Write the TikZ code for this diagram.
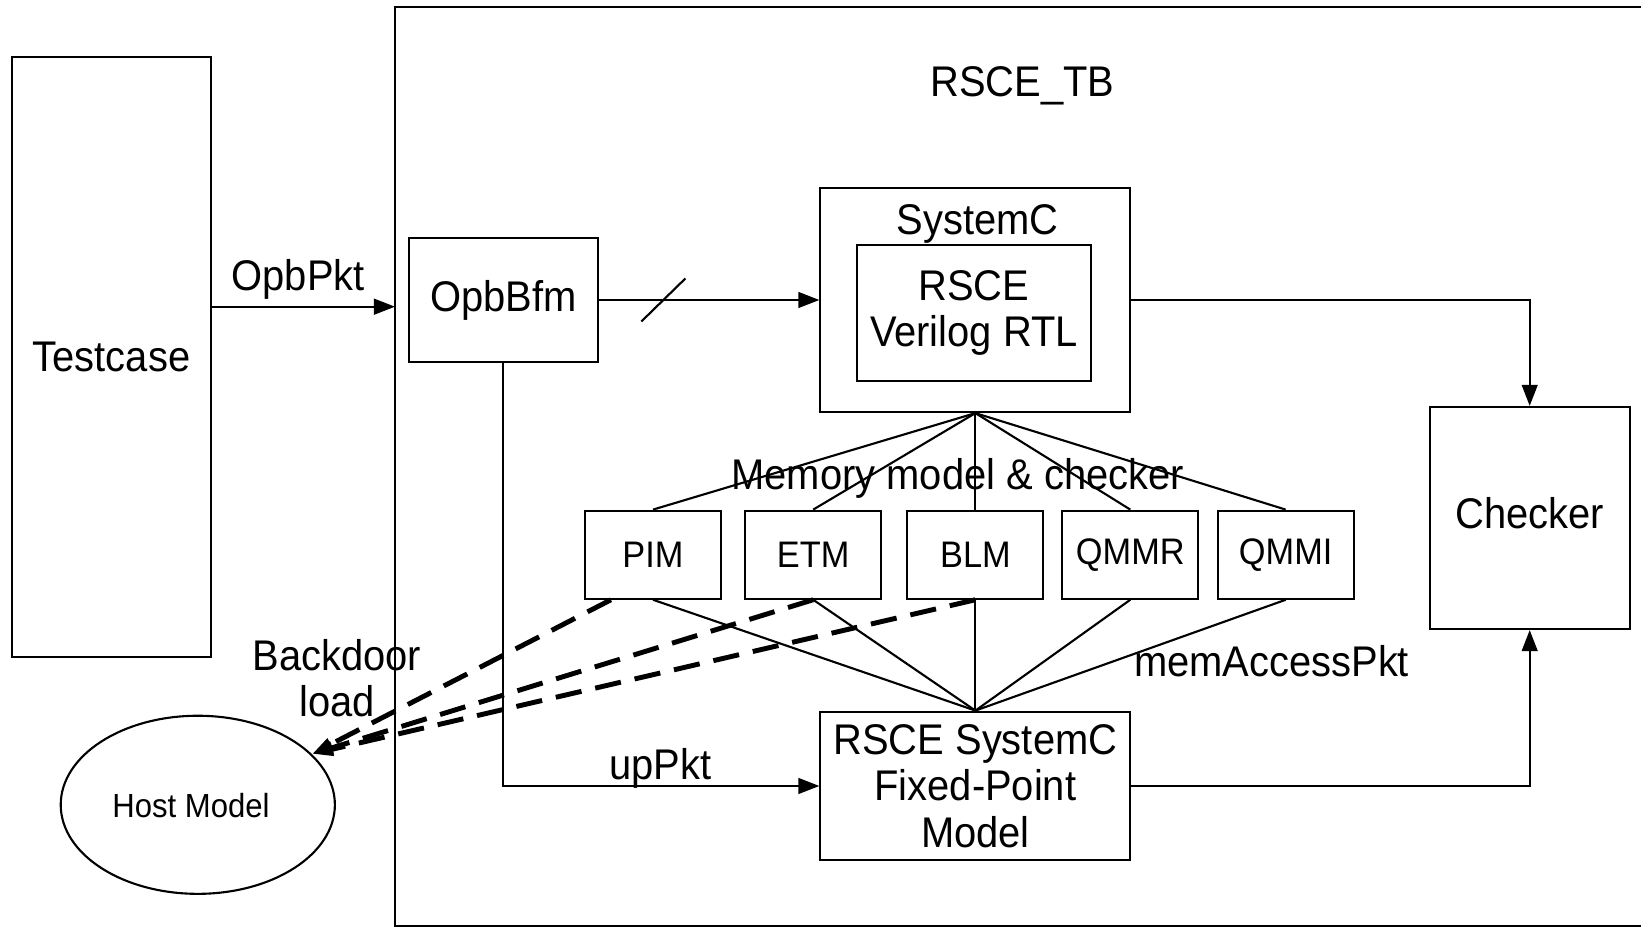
\documentclass[tikz,border=0pt]{standalone}
\usepackage{fontspec}
\setmainfont{Liberation Sans}[FakeStretch=0.93]
\usetikzlibrary{arrows.meta,shapes.geometric}

\tikzset{
  block/.style={draw, line width=0.6pt, inner sep=0pt, align=center, font=\fontsize{12.2}{13.2}\selectfont},
  membox/.style={draw, line width=0.6pt, inner sep=0pt, minimum width=1.36cm, minimum height=0.88cm, font=\fontsize{10.5}{12}\selectfont},
  wire/.style={line width=0.6pt},
  flow/.style={wire, -{Triangle[length=6pt,width=4.5pt]}},
  backdoor/.style={line width=1.4pt, dash pattern=on 7.5pt off 4pt, -{Triangle[length=6pt,width=3.5pt]}},
  tag/.style={font=\fontsize{12.2}{13.2}\selectfont, align=center, inner sep=0pt},
}

\begin{document}
\begin{tikzpicture}[x=0.01cm, y=-0.01cm]
    \useasboundingbox (0,0) rectangle (1641,928);
    % testbench frame, open to the right
    \draw[wire] (1641,7) -- (395,7) -- (395,926) -- (1641,926);
    \coordinate (tbin) at (395,306.7);
    \node[tag] (tbname) at (1022.5,85.8) {RSCE\_TB};

    \node[block, minimum width=1.98cm, minimum height=5.99cm] (testcase) at (111.5,357) {Testcase};
    \node[block, minimum width=1.886cm, minimum height=1.246cm] (opb) at (503.3,300) {OpbBfm};
    \node[block, minimum width=3.098cm, minimum height=2.24cm] (sysc) at (975.4,300) {};
    \node[tag] (sysclabel) at (977.5,223.5) {SystemC};
    \node[block, minimum width=2.334cm, minimum height=1.361cm] (rtl) at (973.9,313) {RSCE\\Verilog RTL};
    \node[block, minimum width=2cm, minimum height=2.22cm] (checker) at (1529.7,518) {};
    \node[tag] (checkerlabel) at (1529.7,513) {Checker};
    \node[block, minimum width=3.098cm, minimum height=1.486cm] (fixed) at (975.4,786) {RSCE SystemC\\Fixed-Point\\Model};
    \node[draw, wire, ellipse, inner sep=0pt, minimum width=2.74cm, minimum height=1.78cm] (host) at (197.8,804.8) {};
    \node[font=\fontsize{9.5}{11}\selectfont, inner sep=0pt] (hostlabel) at (191,806) {Host Model};

    % memory models
    \foreach \name/\x in {PIM/653,ETM/813.2,BLM/975.4,QMMR/1130.3,QMMI/1285.7} {
        \node[membox] (\name) at (\x,554.7) {\name};
        \draw[wire] (sysc.south) -- (\name.north);
        \draw[wire] (\name.south) -- (fixed.north);
    }
    \node[tag] (memlabel) at (957.7,478.3) {Memory model \& checker};

    % packets
    \draw[flow] (testcase.east |- tbin) -- (tbin);
    \node[tag] (opbpkt) at (298.3,279.4) {OpbPkt};
    \draw[flow] (opb) -- coordinate[pos=0.293] (bus) (sysc);
    \draw[wire] ([shift={(-22,21.5)}]bus) -- ([shift={(22,-21.5)}]bus);
    \draw[flow] (sysc.east) -| (checker.north);
    \draw[flow] (fixed.east) -| (checker.south);
    \draw[flow] (opb.south) |- (fixed.west);
    \node[tag] (uppkt) at (660.4,768) {upPkt};
    \node[tag] (memacc) at (1271.6,661.5) {memAccessPkt};

    % backdoor load
    \draw[backdoor] ([xshift=-0.42cm]PIM.south) -- (host.24);
    \draw[backdoor] (ETM.south) -- (host.24);
    \draw[backdoor] (BLM.south) -- (host.24);
    \node[tag] (backdoor) at (337,678) {Backdoor\\load};
\end{tikzpicture}
\end{document}
